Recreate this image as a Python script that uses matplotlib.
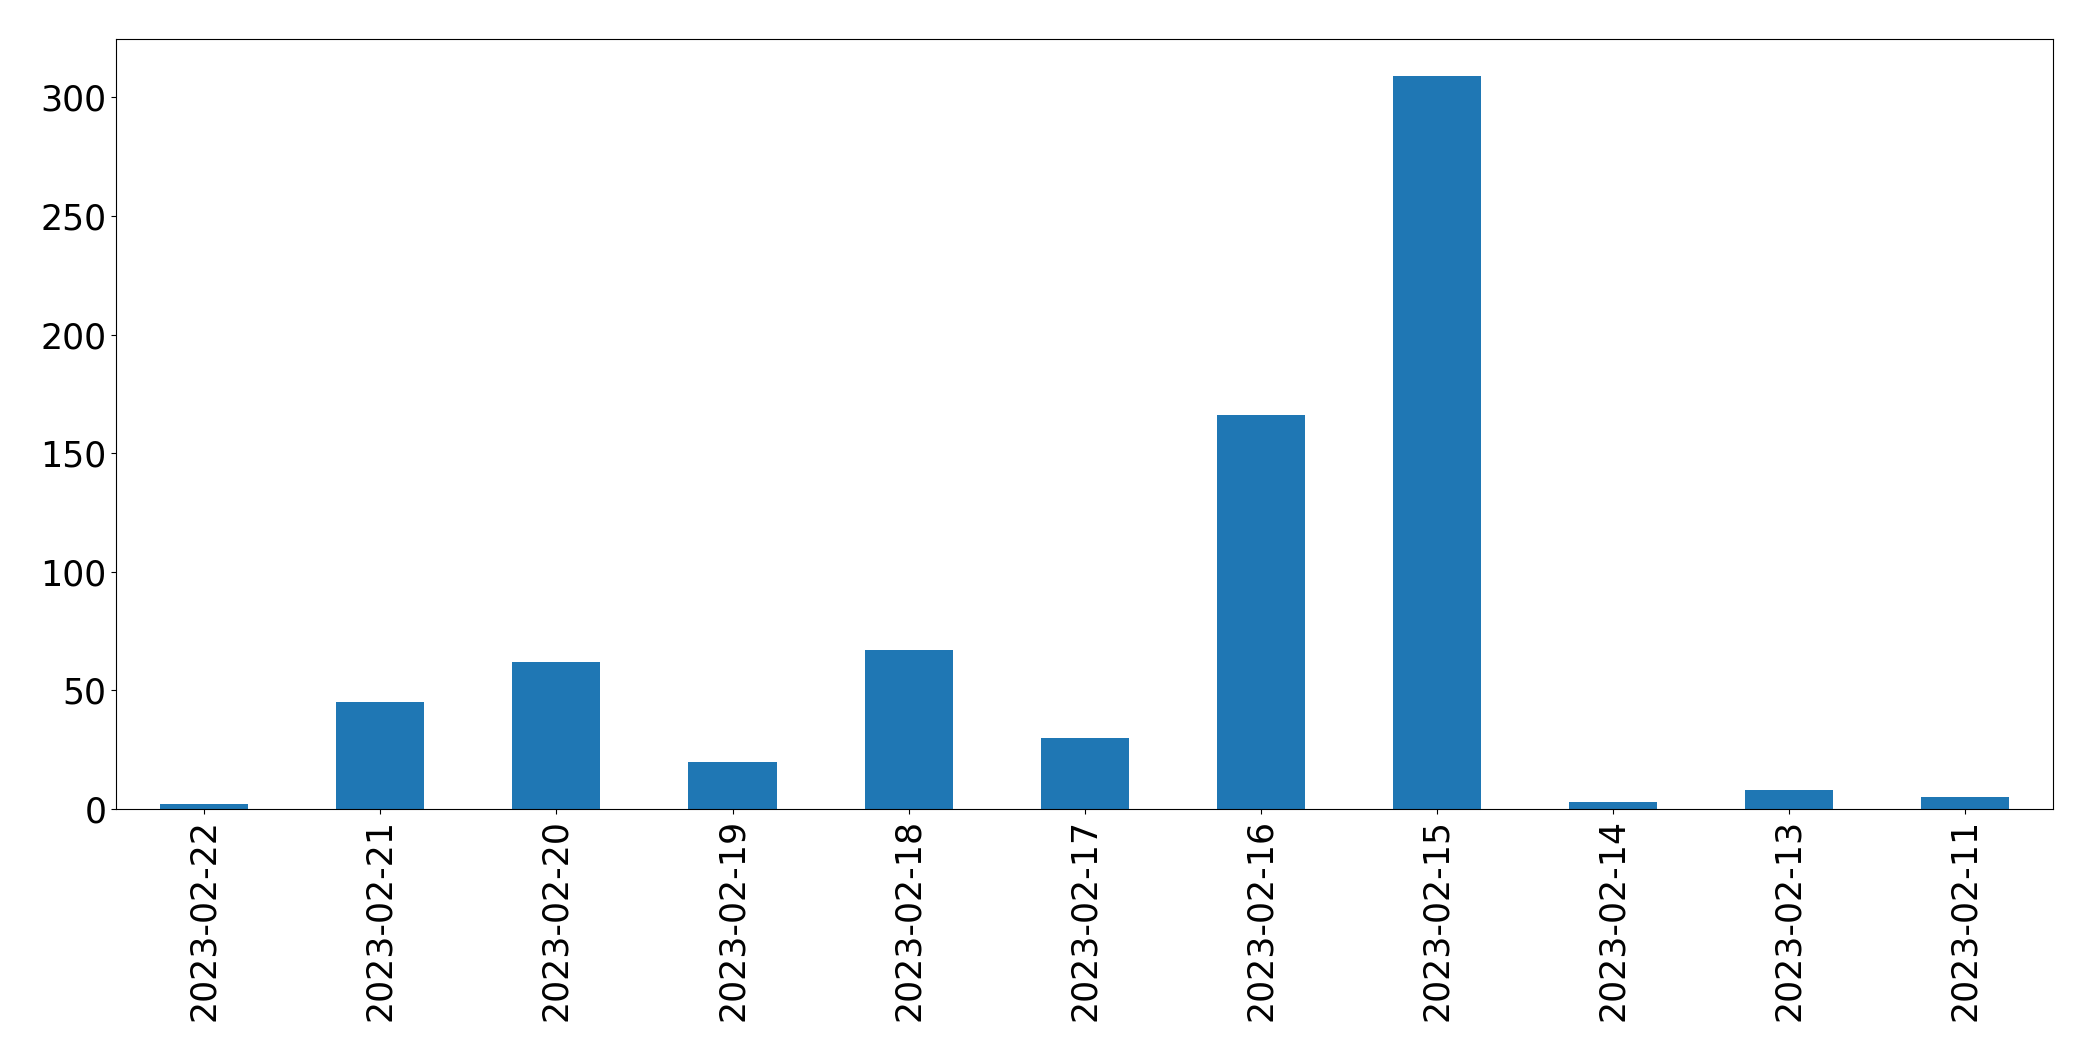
import matplotlib
matplotlib.use("Agg")
import matplotlib.pyplot as plt
import pandas as pd

# daily counts, in the order shown
dates = ['2023-02-22', '2023-02-21', '2023-02-20', '2023-02-19', '2023-02-18',
         '2023-02-17', '2023-02-16', '2023-02-15', '2023-02-14', '2023-02-13',
         '2023-02-11']
counts = [2, 45, 62, 20, 67, 30, 166, 309, 3, 8, 5]

s = pd.Series(counts, index=dates)

fig, ax = plt.subplots(figsize=(20.93, 10.61), dpi=100)
s.plot(kind='bar', ax=ax, color='#1f77b4')
ax.tick_params(axis='both', labelsize=25)
plt.subplots_adjust(left=0.0555, right=0.981, top=0.963, bottom=0.2375)
plt.savefig('out.png', dpi=100)
